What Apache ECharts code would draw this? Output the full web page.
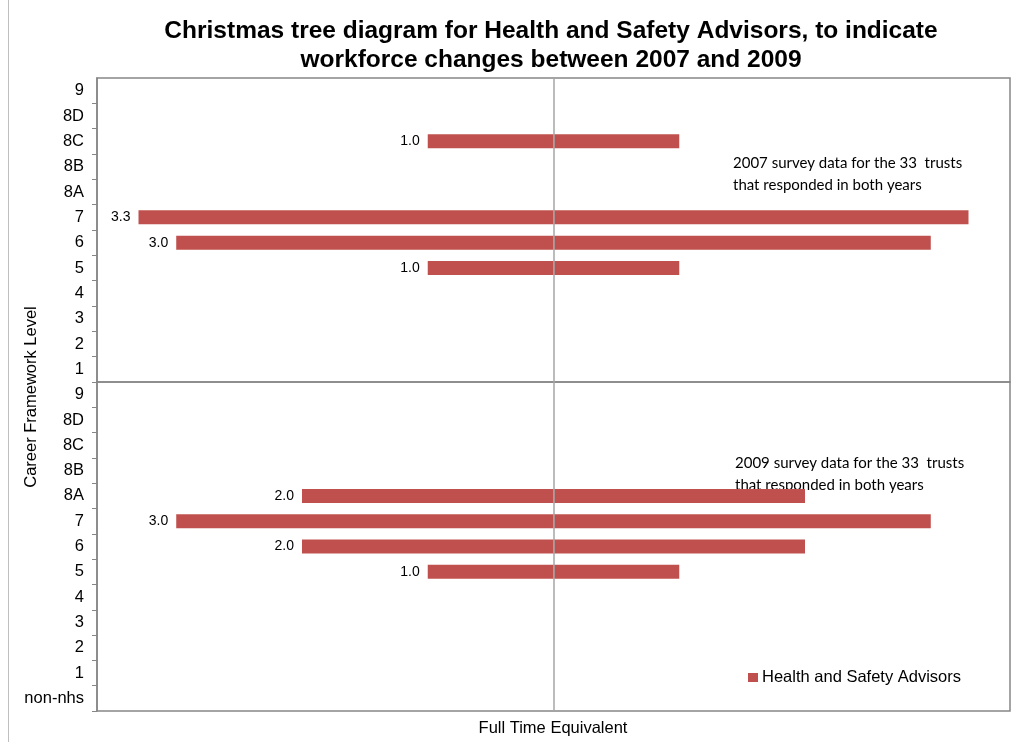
<!DOCTYPE html>
<html>
<head>
<meta charset="utf-8">
<script src="https://cdn.jsdelivr.net/npm/echarts@6/dist/echarts.min.js"></script>
<style>
  html, body { margin: 0; padding: 0; background: #fff; }
  #chart { width: 1022px; height: 742px; }
</style>
</head>
<body>
<div id="chart"></div>
<script>
    // career framework levels, top panel = 2007, bottom panel = 2009
    const levelsTop = ['9', '8D', '8C', '8B', '8A', '7', '6', '5', '4', '3', '2', '1'];
    const levelsBottom = ['9', '8D', '8C', '8B', '8A', '7', '6', '5', '4', '3', '2', '1', 'non-nhs'];
    const fte2007 = [0, 0, 1.0, 0, 0, 3.3, 3.0, 1.0, 0, 0, 0, 0];
    const fte2009 = [0, 0, 0, 0, 2.0, 3.0, 2.0, 1.0, 0, 0, 0, 0, 0];
    const seriesName = 'Health and Safety Advisors';
    const barColor = '#C0504D';
    const font = 'Liberation Sans, Arial, sans-serif';

    const chart = echarts.init(document.getElementById('chart'));

    // half bars either side of zero, so the bar is centred on the axis
    function halves(values, gridIdx) {
        const left = {
            name: seriesName,
            type: 'bar',
            stack: 'tree' + gridIdx,
            xAxisIndex: gridIdx,
            yAxisIndex: gridIdx,
            barWidth: 14,
            itemStyle: { color: barColor },
            label: {
                show: true,
                position: 'left',
                distance: 8,
                color: '#000',
                fontFamily: font,
                fontSize: 14,
                formatter: (p) => {
                    const v = values[p.dataIndex];
                    return v ? v.toFixed(1) : '';
                }
            },
            data: values.map(v => -v / 2),
            markLine: {
                silent: true,
                symbol: 'none',
                label: { show: false },
                lineStyle: { color: '#a6a6a6', width: 1.5, type: 'solid' },
                data: [{ xAxis: 0 }]
            }
        };
        const right = {
            name: seriesName,
            type: 'bar',
            stack: 'tree' + gridIdx,
            xAxisIndex: gridIdx,
            yAxisIndex: gridIdx,
            barWidth: 14,
            itemStyle: { color: barColor },
            data: values.map(v => v / 2)
        };
        return [left, right];
    }

    function catAxis(data, gridIdx) {
        return {
            type: 'category',
            gridIndex: gridIdx,
            inverse: true,
            data: data,
            axisLine: { show: true, onZero: false, lineStyle: { color: '#868686', width: 1.5 } },
            // only the inner boundaries get a tick
            axisTick: {
                show: true,
                length: 5,
                inside: false,
                interval: (idx) => idx > 0 && idx < data.length,
                lineStyle: { color: '#868686' }
            },
            axisLabel: { color: '#000', fontFamily: font, fontSize: 16.5, margin: 13 },
            splitLine: { show: false }
        };
    }

    function valAxis(gridIdx) {
        return {
            type: 'value',
            gridIndex: gridIdx,
            min: -1.815,
            max: 1.815,
            show: false
        };
    }

    const option = {
        backgroundColor: '#fff',
        animation: false,
        title: {
            text: 'Christmas tree diagram for Health and Safety Advisors, to indicate\nworkforce changes between 2007 and 2009',
            left: 546,
            textAlign: 'center',
            top: 12,
            textStyle: {
                fontFamily: font,
                fontSize: 24.5,
                fontWeight: 'bold',
                color: '#000',
                lineHeight: 29
            }
        },
        legend: {
            left: 743,
            top: 664,
            itemWidth: 10,
            itemHeight: 9,
            itemGap: 5,
            icon: 'rect',
            data: [seriesName],
            textStyle: { fontFamily: font, fontSize: 16.5, color: '#000', padding: [0, 0, 0, -1] }
        },
        grid: [
            { left: 97, top: 78, width: 913, height: 304, show: true, borderColor: '#868686', borderWidth: 1.5, containLabel: false },
            { left: 97, top: 382, width: 913, height: 329, show: true, borderColor: '#868686', borderWidth: 1.5, containLabel: false }
        ],
        xAxis: [valAxis(0), valAxis(1)],
        yAxis: [catAxis(levelsTop, 0), catAxis(levelsBottom, 1)],
        series: [...halves(fte2007, 0), ...halves(fte2009, 1)],
        graphic: [
            {
                type: 'line',
                shape: { x1: 8.5, y1: 0, x2: 8.5, y2: 742 },
                style: { stroke: '#bfbfbf', lineWidth: 1 }
            },
            {
                type: 'text',
                left: 733,
                top: 152,
                style: {
                    text: '2007 survey data for the 33  trusts\nthat responded in both years',
                    font: '15px Lato, sans-serif',
                    fill: '#000',
                    lineHeight: 22
                }
            },
            {
                type: 'text',
                left: 735,
                top: 452,
                style: {
                    text: '2009 survey data for the 33  trusts\nthat responded in both years',
                    font: '15px Lato, sans-serif',
                    fill: '#000',
                    lineHeight: 22
                }
            },
            {
                type: 'text',
                x: 31,
                y: 397,
                rotation: Math.PI / 2,
                style: {
                    text: 'Career Framework Level',
                    font: '16.5px ' + font,
                    fill: '#000',
                    align: 'center',
                    verticalAlign: 'middle'
                }
            },
            {
                type: 'text',
                x: 553,
                y: 728,
                style: {
                    text: 'Full Time Equivalent',
                    font: '16.5px ' + font,
                    fill: '#000',
                    align: 'center',
                    verticalAlign: 'middle'
                }
            }
        ]
    };

    chart.setOption(option);
</script>
</body>
</html>
